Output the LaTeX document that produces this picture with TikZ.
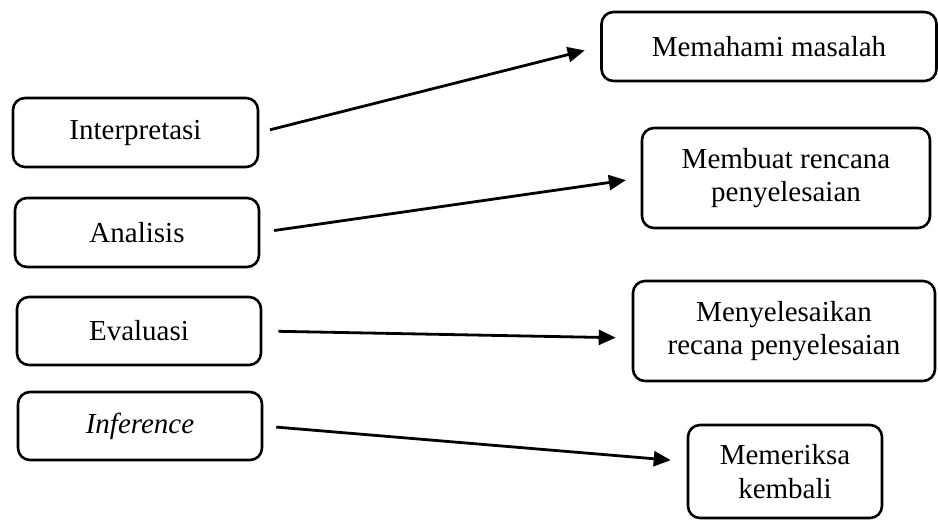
\documentclass[tikz,border=0pt]{standalone}
\usepackage{fontspec}
\setmainfont{Liberation Serif}
\usetikzlibrary{arrows.meta}

\begin{document}
\begin{tikzpicture}[x=1pt,y=-1pt,
        kotak/.style={draw,rounded corners=12pt,line width=2.6pt,inner sep=0pt,align=center,
            font=\fontsize{29}{33.5}\selectfont},
        panah/.style={line width=2.8pt,-{Triangle[length=17pt,width=15pt]}}]
    \useasboundingbox (0,0) rectangle (938,525);
    % kiri
    \node[kotak,minimum width=245pt,minimum height=69pt] (interpretasi) at (135.5,132.5) {Interpretasi};
    \node[kotak,minimum width=244pt,minimum height=69pt] (analisis) at (137,232.5) {Analisis};
    \node[kotak,minimum width=244pt,minimum height=68pt] (evaluasi) at (139,331) {Evaluasi};
    \node[kotak,minimum width=244pt,minimum height=68pt] (inference) at (140,426) {\textit{Inference}};
    % kanan
    \node[kotak,minimum width=335pt,minimum height=69pt] (memahami) at (769,46.5) {Memahami masalah};
    \node[kotak,minimum width=288pt,minimum height=100pt] (membuat) at (786,178) {Membuat rencana\\penyelesaian};
    \node[kotak,minimum width=302pt,minimum height=100pt] (menyelesaikan) at (784,331) {Menyelesaikan\\recana penyelesaian};
    \node[kotak,minimum width=194pt,minimum height=93pt] (memeriksa) at (785,471.5) {Memeriksa\\kembali};
    % panah
    \draw[panah,shorten <=11pt,shorten >=16pt] (interpretasi.east) -- (memahami.west);
    \draw[panah,shorten <=14pt,shorten >=15pt] (analisis.east) -- (membuat.west);
    \draw[panah,shorten <=16pt,shorten >=16pt] (evaluasi.east) -- ([yshift=-7pt]menyelesaikan.west);
    \draw[panah,shorten <=13pt,shorten >=16pt] (inference.east) -- ([yshift=10pt]memeriksa.west);
\end{tikzpicture}
\end{document}
